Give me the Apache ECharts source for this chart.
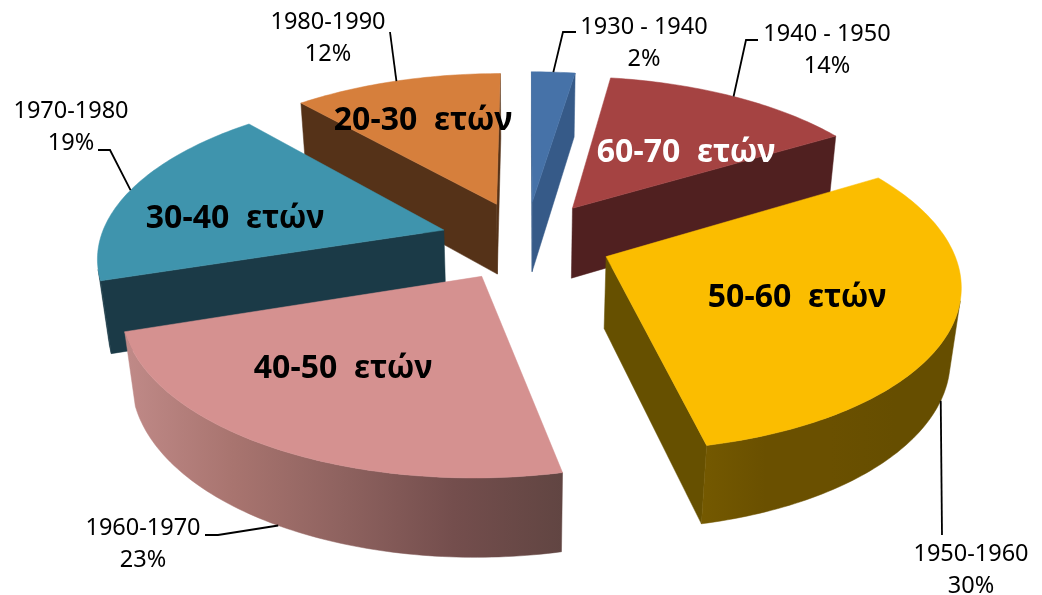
<!DOCTYPE html>
<html>
<head>
<meta charset="utf-8">
<script src="https://cdn.jsdelivr.net/npm/echarts@6/dist/echarts.min.js"></script>
<style>
  html, body { margin: 0; padding: 0; background: #fff; }
  #chart { width: 1042px; height: 595px; }
</style>
</head>
<body>
<div id="chart"></div>
<script>
var decades = ['1930 - 1940', '1940 - 1950', '1950-1960', '1960-1970', '1970-1980', '1980-1990'];
// unrounded shares, the labels show them rounded
var shares = [2.4, 14.0, 30.2, 23.4, 18.5, 11.5];
var ageGroups = ['', '60-70  ετών', '50-60  ετών', '40-50  ετών', '30-40  ετών', '20-30  ετών'];

// styling, same order as the slices
var topColors = ['#4672a8', '#a54342', '#fbbd00', '#d59190', '#3f94ad', '#d67f3c'];
var cutColors = ['#365a88', '#502020', '#665000', '#6b4a48', '#1b3a47', '#553218'];
var rimColors = [
  ['#365a88', '#365a88'],
  ['#502020', '#502020'],
  ['#745900', '#6a5000', '#6a5000', '#664e00', '#664e00'],
  ['#c08a88', '#a8746f', '#8e625f', '#744e4d', '#614542'],
  ['#1b3a47', '#1b3a47'],
  ['#b86c33', '#b86c33']
];
var ageColors = ['#000', '#fff', '#000', '#000', '#000', '#000'];

// label layout
var agePos = [null, [686, 153], [797, 298], [343, 369], [235, 219], [423, 121]];
var decadePos = [[644, 43], [827, 50], [971, 570], [143, 544], [71, 127], [328, 38]];
var leaderKnees = [[[563, 32], [576, 32]], [[746, 40], [758, 40]], [[942, 535]], [[218, 535], [205, 535]], [[110, 150], [98, 150]], [[390, 32]]];
var leaderLevel = [0, 0, 1, 1, 0, 0];

// projection of the tilted pie
var cx = 526, cy = 240.5, scaleX = 344, scaleZ = 160, depth = 73;
var persp = 0.148, perspDown = 0.025, explode = 0.25;
var labelFont = '23.5px "Noto Sans", sans-serif';
var ageFont = 'bold 32px "Noto Sans", sans-serif';

function project(X, Z, level) {
  var w = 1 - persp * Z + perspDown * level;
  return [cx + scaleX * X / w, cy + (scaleZ * Z + depth * level) / w];
}

function area(p) {
  var s = 0;
  for (var i = 0; i < p.length; i++) {
    var q = p[(i + 1) % p.length];
    s += p[i][0] * q[1] - q[0] * p[i][1];
  }
  return s;
}

var starts = [];
shares.reduce(function (sum, v) { starts.push(sum); return sum + v; }, 0);
var rows = shares.map(function (v, i) { return [starts[i], v, i]; });

function renderSlice(params, api) {
  var total = shares.reduce(function (a, b) { return a + b; }, 0);
  var a0 = api.value(0) / total * Math.PI * 2;
  var a1 = (api.value(0) + api.value(1)) / total * Math.PI * 2;
  var i = api.value(2);
  var mid = (a0 + a1) / 2;
  var ex = Math.sin(mid) * explode, ez = -Math.cos(mid) * explode;
  var rank = -Math.cos(mid);
  var base = Math.round((rank + 1) * 100) * 10;

  function rim(a, level) { return project(ex + Math.sin(a), ez - Math.cos(a), level); }
  var apexT = project(ex, ez, 0), apexB = project(ex, ez, 1);

  var steps = Math.max(2, Math.ceil((a1 - a0) / (Math.PI / 180)));
  var topPts = [apexT], frontT = [], frontB = [];
  for (var s = 0; s <= steps; s++) {
    var a = a0 + (a1 - a0) * s / steps;
    topPts.push(rim(a, 0));
    if (s < steps) {
      var b = a0 + (a1 - a0) * (s + 1) / steps;
      if (area([rim(a, 0), rim(b, 0), rim(b, 1), rim(a, 1)]) < 0) {
        if (!frontT.length) { frontT.push(rim(a, 0)); frontB.push(rim(a, 1)); }
        frontT.push(rim(b, 0));
        frontB.push(rim(b, 1));
      }
    }
  }

  var kids = [];
  function poly(points, fill, z) {
    kids.push({ type: 'polygon', z2: base + z, shape: { points: points }, style: { fill: fill, stroke: fill, lineWidth: 0.5 } });
  }

  var cutStart = [apexT, rim(a0, 0), rim(a0, 1), apexB];
  var cutEnd = [rim(a1, 0), apexT, apexB, rim(a1, 1)];
  if (area(cutStart) < 0) poly(cutStart, cutColors[i], 1);
  if (area(cutEnd) < 0) poly(cutEnd, cutColors[i], 1);
  if (frontT.length) {
    var stops = rimColors[i].map(function (c, k, all) { return { offset: k / (all.length - 1), color: c }; });
    poly(frontT.concat(frontB.slice().reverse()), { type: 'linear', x: 0, y: 0, x2: 1, y2: 0, colorStops: stops }, 2);
  }
  poly(topPts, topColors[i], 3);

  var inner = rim(mid, leaderLevel[i]);
  kids.push({
    type: 'polyline', z2: 5000,
    shape: { points: [inner].concat(leaderKnees[i]) },
    style: { fill: null, stroke: '#000', lineWidth: 1.8 }
  });
  kids.push({
    type: 'text', z2: 5001,
    style: {
      text: decades[i] + '\n' + Math.round(api.value(1)) + '%',
      x: decadePos[i][0], y: decadePos[i][1],
      align: 'center', verticalAlign: 'middle',
      font: labelFont, lineHeight: 32, fill: '#000'
    }
  });
  if (ageGroups[i]) {
    kids.push({
      type: 'text', z2: 5002,
      style: {
        text: ageGroups[i],
        x: agePos[i][0], y: agePos[i][1],
        align: 'center', verticalAlign: 'middle',
        font: ageFont, fill: ageColors[i]
      }
    });
  }
  return { type: 'group', children: kids };
}

var chart = echarts.init(document.getElementById('chart'));
chart.setOption({
  backgroundColor: '#fff',
  animation: false,
  series: [{
    type: 'custom',
    coordinateSystem: 'none',
    silent: true,
    clip: false,
    renderItem: renderSlice,
    data: rows
  }]
});
</script>
</body>
</html>
